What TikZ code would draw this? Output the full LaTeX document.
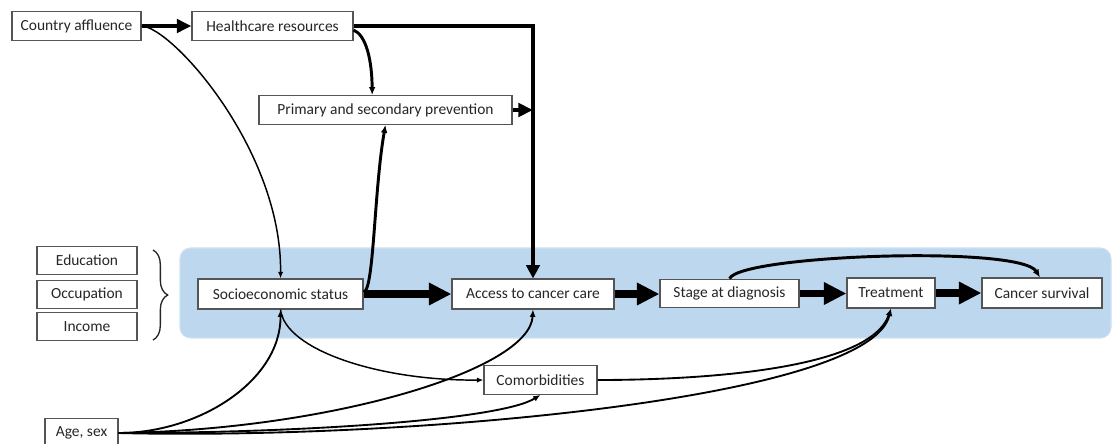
\documentclass[tikz,border=0pt]{standalone}
\usepackage{fontspec}
\setmainfont{Carlito}
\usetikzlibrary{arrows.meta,decorations.pathreplacing}
\definecolor{band}{RGB}{189,215,238}
\definecolor{bandedge}{RGB}{205,225,243}
\definecolor{boxline}{RGB}{85,85,85}
\definecolor{txt}{RGB}{38,38,38}
\begin{document}
\begin{tikzpicture}[x=0.75pt,y=-0.75pt,
  box/.style={draw=boxline, line width=0.8pt, fill=white, text=txt,
    font=\fontsize{11.6}{13}\selectfont, inner sep=0pt, minimum height=21.5pt},
  thinarr/.style={line width=1.1pt, -{Latex[length=5pt,width=4pt]}},
  midthin/.style={line width=1.4pt, -{Latex[length=5.5pt,width=4.5pt]}},
  bigarr/.style={line width=5.5pt, -{Triangle[length=17pt,width=16pt]}},
  medarr/.style={line width=3pt, -{Triangle[length=11pt,width=10pt]}},
  curvearr/.style={line width=2.2pt, -{Latex[length=6pt,width=5pt]}},
  line join=miter]
\useasboundingbox (0,0) rectangle (1112,443);
% background band
\fill[band, draw=bandedge, line width=0.8pt, rounded corners=8pt] (180,248) rectangle (1111,338);
% nodes
\node[box, minimum width=96.75pt] (ca) at (76.5,26) {Country affluence};
\node[box, minimum width=120.75pt] (hr) at (272.5,26) {Healthcare resources};
\node[box, minimum width=189.75pt] (pp) at (385.5,110) {Primary and secondary prevention};
\node[box, minimum width=75pt] (edu) at (87,260.5) {Education};
\node[box, minimum width=75pt] (occ) at (87,294.5) {Occupation};
\node[box, minimum width=75pt] (inc) at (87,326.5) {Income};
\node[box, minimum width=123.75pt, minimum height=22.5pt] (ses) at (280.5,294) {Socioeconomic status};
\node[box, minimum width=121.5pt, minimum height=22.5pt] (acc) at (533,294) {Access to cancer care};
\node[box, minimum width=104.25pt] (stage) at (729.5,293.5) {Stage at diagnosis};
\node[box, minimum width=66pt, minimum height=22.5pt] (tr) at (891,293) {Treatment};
\node[box, minimum width=90pt, minimum height=22.5pt] (cs) at (1042,293) {Cancer survival};
\node[box, minimum width=84.75pt] (com) at (540.5,380) {Comorbidities};
\node[box, minimum width=54.75pt] (age) at (81.5,433) {Age, sex};
% brace
\draw[txt, line width=1pt, decorate, decoration={brace, amplitude=11pt}]
  (153,250) -- (153,340);
% top connectors
\draw[medarr] (ca.east) -- (hr.west);
\draw[line width=3pt, -{Triangle[length=10pt,width=10pt]}] (hr.east) -| (acc.north);
\draw[medarr] (pp.east) -- (pp.east -| acc.north);
\draw[curvearr] ([yshift=-3pt]hr.east) .. controls (366,35) and (372,60) .. ([xshift=-10pt]pp.north);
\draw[curvearr] ([yshift=1.5pt]ses.east) .. controls (374,292) and (374,190) .. (pp.south);
\draw[thinarr] (ca.east) .. controls (172,27) and (282,150) .. (ses.north);
% main chain
\draw[bigarr] (ses.east) -- (acc.west);
\draw[bigarr] (acc.east) -- (acc.east -| stage.west);
\draw[bigarr] (stage.east) -- (stage.east -| tr.west);
\draw[bigarr] (tr.east) -- (cs.west);
\draw[curvearr] (stage.north) .. controls (740,255) and (1020,245) .. ([xshift=-1.5pt]cs.north);
% lower connectors
\draw[thinarr] (ses.south) .. controls (285,350) and (380,381) .. (com.west);
\draw[midthin] (age.east) .. controls (200,433) and (281,380) .. (ses.south);
\draw[midthin] (age.east) .. controls (330,430) and (530,370) .. (acc.south);
\draw[midthin] (age.east) .. controls (300,433) and (500,420) .. (com.south);
\draw[midthin] (age.east) .. controls (400,440) and (870,400) .. (tr.south);
\draw[midthin] (com.east) .. controls (700,380) and (870,370) .. (tr.south);
\end{tikzpicture}
\end{document}
